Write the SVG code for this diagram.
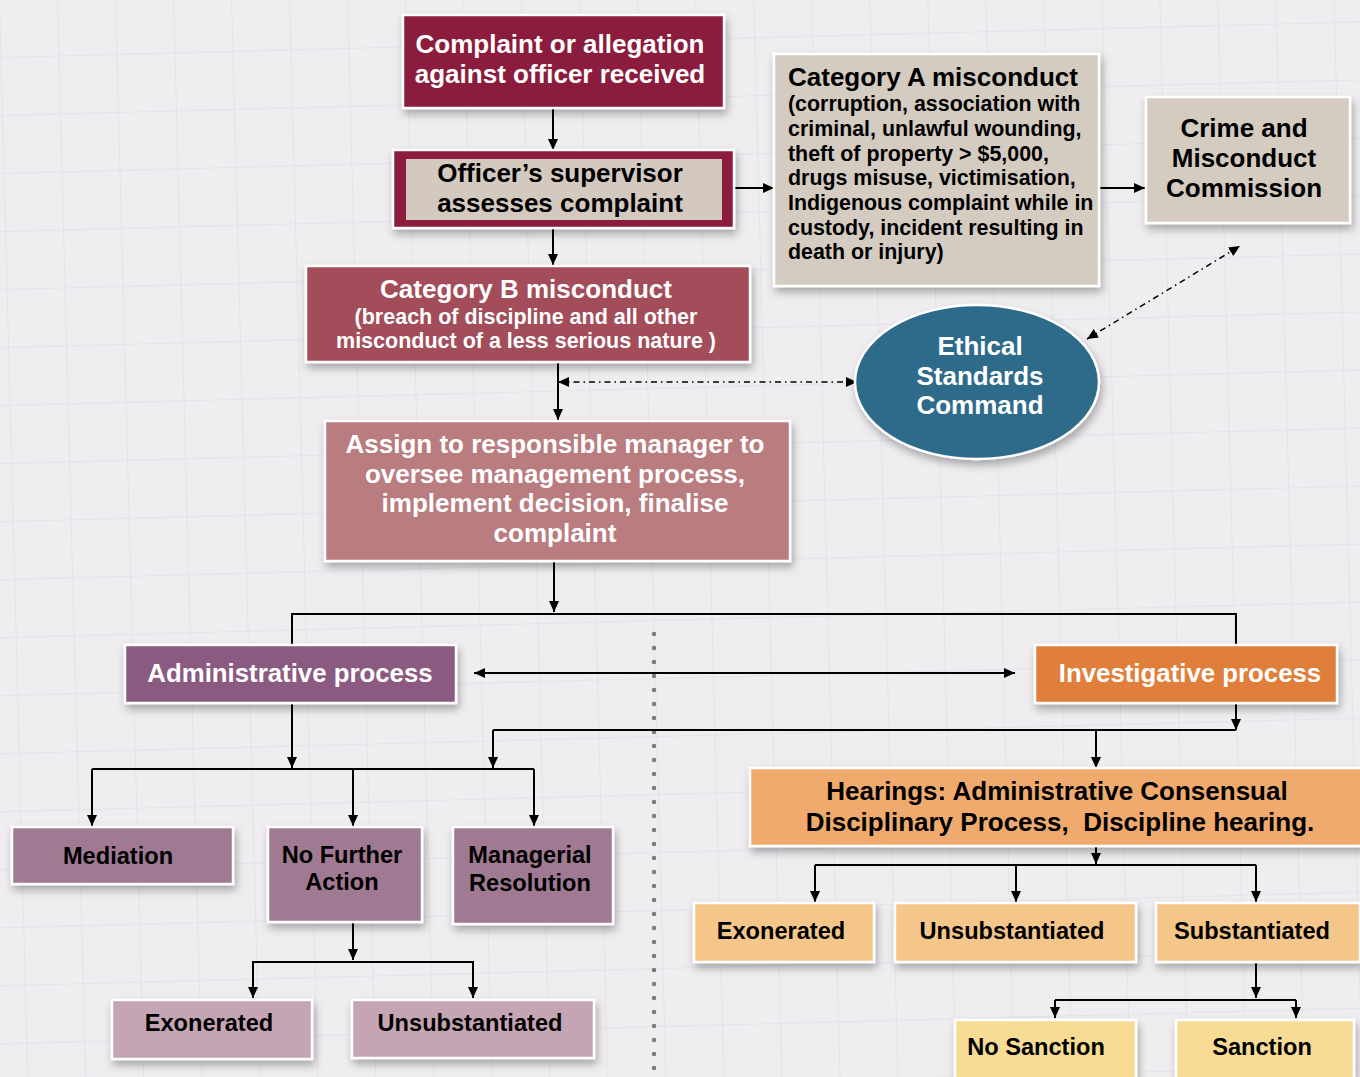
<svg xmlns="http://www.w3.org/2000/svg" width="1360" height="1077" viewBox="0 0 1360 1077">
<defs>
<pattern id="grid" width="58" height="58" patternUnits="userSpaceOnUse" patternTransform="rotate(-1.5)">
<path d="M58 0V58M0 58H58" fill="none" stroke="#e2e0e8" stroke-width="1.5"/>
</pattern>
<filter id="sh" x="-10%" y="-10%" width="125%" height="140%">
<feDropShadow dx="2" dy="5" stdDeviation="4" flood-color="#000" flood-opacity="0.3"/>
</filter>
<marker id="ah" markerWidth="12" markerHeight="12" refX="11" refY="6" orient="auto-start-reverse" markerUnits="userSpaceOnUse">
<path d="M0 1L11 6L0 11Z" fill="#000"/>
</marker>
<style>
.bx{stroke:#fff;stroke-width:2.5;filter:url(#sh)}
.t{font-family:"Liberation Sans",Arial,sans-serif;font-weight:bold;text-anchor:middle}
.l{font-family:"Liberation Sans",Arial,sans-serif;font-weight:bold}
.w{fill:#fff}
.k{fill:#000}
.c{fill:none;stroke:#000;stroke-width:2}
.ca{fill:none;stroke:#000;stroke-width:2;marker-end:url(#ah)}
.dd{fill:none;stroke:#000;stroke-width:1.5;stroke-dasharray:6 4 1.5 4;marker-start:url(#ah);marker-end:url(#ah)}
.b2{fill:none;stroke:#000;stroke-width:2;marker-start:url(#ah);marker-end:url(#ah)}
</style>
</defs>
<rect width="1360" height="1077" fill="#efedf0"/>
<rect width="1360" height="1077" fill="url(#grid)"/>

<g id="divider">
<line x1="654" y1="634" x2="654" y2="1077" stroke="#7a7a7a" stroke-width="4.5" stroke-linecap="round" stroke-dasharray="0 14"/>
</g>

<g id="connectors">
<line class="ca" x1="553" y1="109" x2="553" y2="150"/>
<line class="ca" x1="735" y1="188" x2="774" y2="188"/>
<line class="ca" x1="1099" y1="188" x2="1145" y2="188"/>
<line class="dd" x1="1087" y1="339" x2="1240" y2="246"/>
<line class="ca" x1="553" y1="229" x2="553" y2="265"/>
<line class="ca" x1="558" y1="363" x2="558" y2="420"/>
<line class="dd" x1="558" y1="382" x2="857" y2="382"/>
<line class="ca" x1="554" y1="562" x2="554" y2="612"/>
<polyline class="c" points="292,645 292,614 1236,614 1236,645"/>
<line class="b2" x1="474" y1="673" x2="1015" y2="673"/>
<line class="ca" x1="292" y1="704" x2="292" y2="768"/>
<line class="c" x1="92" y1="769" x2="534" y2="769"/>
<line class="ca" x1="92" y1="769" x2="92" y2="826"/>
<line class="ca" x1="353" y1="769" x2="353" y2="826"/>
<line class="ca" x1="534" y1="769" x2="534" y2="826"/>
<line class="ca" x1="1236" y1="704" x2="1236" y2="730"/>
<line class="c" x1="493" y1="730" x2="1236" y2="730"/>
<line class="ca" x1="493" y1="730" x2="493" y2="768"/>
<line class="ca" x1="1096" y1="730" x2="1096" y2="768"/>
<line class="ca" x1="353" y1="923" x2="353" y2="960"/>
<polyline class="b2" points="253,998 253,962 473,962 473,998"/>
<line class="ca" x1="1096" y1="847" x2="1096" y2="864"/>
<line class="c" x1="815" y1="865" x2="1256" y2="865"/>
<line class="ca" x1="815" y1="865" x2="815" y2="902"/>
<line class="ca" x1="1016" y1="865" x2="1016" y2="902"/>
<line class="ca" x1="1256" y1="865" x2="1256" y2="902"/>
<line class="ca" x1="1256" y1="963" x2="1256" y2="998"/>
<line class="c" x1="1055" y1="1000" x2="1296" y2="1000"/>
<line class="ca" x1="1055" y1="1000" x2="1055" y2="1018"/>
<line class="ca" x1="1296" y1="1000" x2="1296" y2="1018"/>
</g>

<g id="complaint">
<rect class="bx" x="403" y="15" width="321" height="93" fill="#8b1a3c"/>
<text class="t w" font-size="26"><tspan x="560" y="53">Complaint or allegation</tspan><tspan x="560" y="83">against officer received</tspan></text>
</g>
<g id="supervisor">
<rect class="bx" x="393" y="150" width="341" height="78" fill="#8b1a3c"/>
<rect x="406" y="159" width="316" height="61" fill="#d4c9bf"/>
<text class="t k" font-size="26"><tspan x="560" y="182">Officer’s supervisor</tspan><tspan x="560" y="212">assesses complaint</tspan></text>
</g>
<g id="categoryA">
<rect class="bx" x="774" y="54" width="325" height="232" fill="#d4cbc1"/>
<text class="l k" font-size="26" x="788" y="86">Category A misconduct</text>
<text class="l k" font-size="21.4"><tspan x="788" y="111">(corruption, association with</tspan><tspan x="788" y="136">criminal, unlawful wounding,</tspan><tspan x="788" y="161">theft of property &gt; $5,000,</tspan><tspan x="788" y="185">drugs misuse, victimisation,</tspan><tspan x="788" y="210">Indigenous complaint while in</tspan><tspan x="788" y="235">custody, incident resulting in</tspan><tspan x="788" y="259">death or injury)</tspan></text>
</g>
<g id="cmc">
<rect class="bx" x="1146" y="97" width="204" height="126" fill="#d4cbc1"/>
<text class="t k" font-size="26"><tspan x="1244" y="137">Crime and</tspan><tspan x="1244" y="167">Misconduct</tspan><tspan x="1244" y="197">Commission</tspan></text>
</g>
<g id="categoryB">
<rect class="bx" x="306" y="266" width="444" height="96" fill="#a34e5a"/>
<text class="t w" font-size="26" x="526" y="298">Category B misconduct</text>
<text class="t w" font-size="21.5"><tspan x="526" y="324">(breach of discipline and all other</tspan><tspan x="526" y="348">misconduct of a less serious nature )</tspan></text>
</g>
<g id="esc">
<ellipse class="bx" cx="977" cy="382" rx="122" ry="77" fill="#2f6a8a"/>
<text class="t w" font-size="26"><tspan x="980" y="355">Ethical</tspan><tspan x="980" y="385">Standards</tspan><tspan x="980" y="414">Command</tspan></text>
</g>
<g id="assign">
<rect class="bx" x="325" y="421" width="465" height="140" fill="#b97b7f"/>
<text class="t w" font-size="26"><tspan x="555" y="453">Assign to responsible manager to</tspan><tspan x="555" y="483">oversee management process,</tspan><tspan x="555" y="512">implement decision, finalise</tspan><tspan x="555" y="542">complaint</tspan></text>
</g>
<g id="admin">
<rect class="bx" x="125" y="645" width="331" height="58" fill="#8a5a80"/>
<text class="t w" font-size="25.8" x="290" y="682">Administrative process</text>
</g>
<g id="investigative">
<rect class="bx" x="1035" y="645" width="302" height="58" fill="#e07e3b"/>
<text class="t w" font-size="25.8" x="1190" y="682">Investigative process</text>
</g>
<g id="mediation">
<rect class="bx" x="12" y="827" width="221" height="57" fill="#a07a92"/>
<text class="t k" font-size="23.6" x="118" y="864">Mediation</text>
</g>
<g id="nfa">
<rect class="bx" x="268" y="827" width="154" height="95" fill="#a07a92"/>
<text class="t k" font-size="23.6"><tspan x="342" y="863">No Further</tspan><tspan x="342" y="890">Action</tspan></text>
</g>
<g id="managerial">
<rect class="bx" x="453" y="827" width="160" height="97" fill="#a07a92"/>
<text class="t k" font-size="23.6"><tspan x="530" y="863">Managerial</tspan><tspan x="530" y="891">Resolution</tspan></text>
</g>
<g id="exonerated-admin">
<rect class="bx" x="112" y="1000" width="200" height="59" fill="#c5a5b3"/>
<text class="t k" font-size="23.6" x="209" y="1031">Exonerated</text>
</g>
<g id="unsubstantiated-admin">
<rect class="bx" x="352" y="1000" width="242" height="58" fill="#c5a5b3"/>
<text class="t k" font-size="23.6" x="470" y="1031">Unsubstantiated</text>
</g>
<g id="hearings">
<rect class="bx" x="750" y="768" width="620" height="78" fill="#f0aa6e"/>
<text class="t k" font-size="26"><tspan x="1057" y="800">Hearings: Administrative Consensual</tspan><tspan x="1060" y="831">Disciplinary Process,&#160; Discipline hearing.</tspan></text>
</g>
<g id="exonerated-inv">
<rect class="bx" x="694" y="903" width="180" height="59" fill="#f5c68a"/>
<text class="t k" font-size="23.6" x="781" y="939">Exonerated</text>
</g>
<g id="unsubstantiated-inv">
<rect class="bx" x="895" y="903" width="241" height="59" fill="#f5c68a"/>
<text class="t k" font-size="23.6" x="1012" y="939">Unsubstantiated</text>
</g>
<g id="substantiated">
<rect class="bx" x="1156" y="903" width="204" height="59" fill="#f5c68a"/>
<text class="t k" font-size="23.6" x="1252" y="939">Substantiated</text>
</g>
<g id="no-sanction">
<rect class="bx" x="955" y="1020" width="181" height="70" fill="#f8dc96"/>
<text class="t k" font-size="23.6" x="1036" y="1055">No Sanction</text>
</g>
<g id="sanction">
<rect class="bx" x="1176" y="1020" width="178" height="70" fill="#f8dc96"/>
<text class="t k" font-size="23.6" x="1262" y="1055">Sanction</text>
</g>
</svg>
